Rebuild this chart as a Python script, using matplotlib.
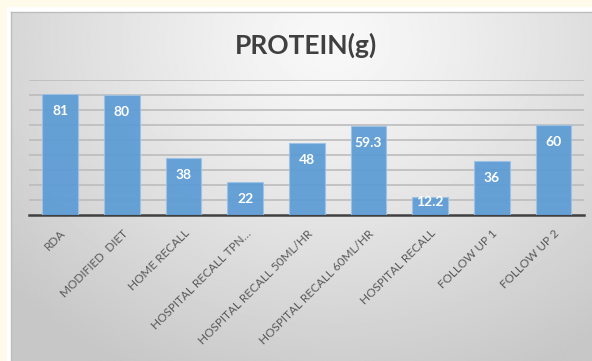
import numpy as np
import matplotlib
matplotlib.use("Agg")
import matplotlib.pyplot as plt
from matplotlib.patches import Rectangle

categories = ["RDA", "MODIFIED  DIET", "HOME RECALL", "HOSPITAL RECALL TPN…",
              "HOSPITAL RECALL 50ML/HR", "HOSPITAL RECALL 60ML/HR",
              "HOSPITAL RECALL", "FOLLOW UP 1", "FOLLOW UP 2"]
values = [81, 80, 38, 22, 48, 59.3, 12.2, 36, 60]
value_labels = ["81", "80", "38", "22", "48", "59.3", "12.2", "36", "60"]
title = "PROTEIN(g)"

W, H = 592, 361
fig = plt.figure(figsize=(W / 100, H / 100), dpi=100)
fig.patch.set_facecolor("#fffbea")

# white frame strip (as its own axes so ordering is explicit)
wf = fig.add_axes([7 / W, 0, 1 - 7 / W, 1 - 7 / H], zorder=0)
wf.set_facecolor("white")
wf.set_xticks([]); wf.set_yticks([])
for s in wf.spines.values():
    s.set_visible(False)

# gradient chart area
bx0, by1 = 11 / W, 1 - 12 / H
bg = fig.add_axes([bx0, 0, 1 - bx0, by1], zorder=1)
ny, nx = 300, 500
yy, xx = np.mgrid[0:ny, 0:nx]
cx, cy = 0.55 * nx, 0.08 * ny
r = np.sqrt(((xx - cx) / (0.75 * nx)) ** 2 + ((yy - cy) / (1.05 * ny)) ** 2)
r = np.clip(r, 0, 1)
light, dark = 0.975, 0.78
img = light - (light - dark) * r ** 1.2
bg.imshow(img, cmap="gray", vmin=0, vmax=1, aspect="auto",
          extent=[0, 1, 0, 1], origin="upper", interpolation="bilinear")
bg.set_xlim(0, 1); bg.set_ylim(0, 1)
bg.set_xticks([]); bg.set_yticks([])
for k, s in bg.spines.items():
    s.set_visible(k in ("left", "top"))
    s.set_color("#bdbdbd")
    s.set_linewidth(1.0)

ax = fig.add_axes([29.3 / W, 1 - 215.3 / H, (584.3 - 29.3) / W, (215.3 - 80) / H], zorder=2)
ax.patch.set_alpha(0)
x = np.arange(len(categories))
ax.bar(x, values, width=0.58, color="#5b9bd5", alpha=0.92, edgecolor="#9cc2e5",
       linewidth=0.8, zorder=3)
for xi, v, lab in zip(x, values, value_labels):
    ax.text(xi, max(v - 11.3, 9.0), lab, ha="center", va="center", color="white",
            fontsize=10, fontweight="bold", family=["Lato", "DejaVu Sans"], zorder=4)

ax.set_xlim(-0.5, len(categories) - 0.5)
ax.set_ylim(0, 90)
ax.set_yticks(np.arange(10, 91, 10))
ax.yaxis.grid(True, color="#bcbcbc", lw=1.2, zorder=0)
ax.set_axisbelow(True)
ax.tick_params(axis="y", left=False, labelleft=False)
ax.tick_params(axis="x", length=0, pad=9)
ax.set_xticks(x)
ax.set_xticklabels(categories, rotation=45, ha="right", rotation_mode="anchor",
                   fontsize=8.5, color="#595959", family=["Lato", "DejaVu Sans"])
for s in ["top", "right", "left"]:
    ax.spines[s].set_visible(False)
ax.spines["bottom"].set_color("#404040")
ax.spines["bottom"].set_linewidth(1.8)

fig.text(306 / W, 1 - 45 / H, title, ha="center", va="center", fontsize=19,
         fontweight="bold", color="#404040", family=["Lato", "DejaVu Sans"], zorder=5)

fig.savefig("out.png", dpi=100, facecolor=fig.get_facecolor())
